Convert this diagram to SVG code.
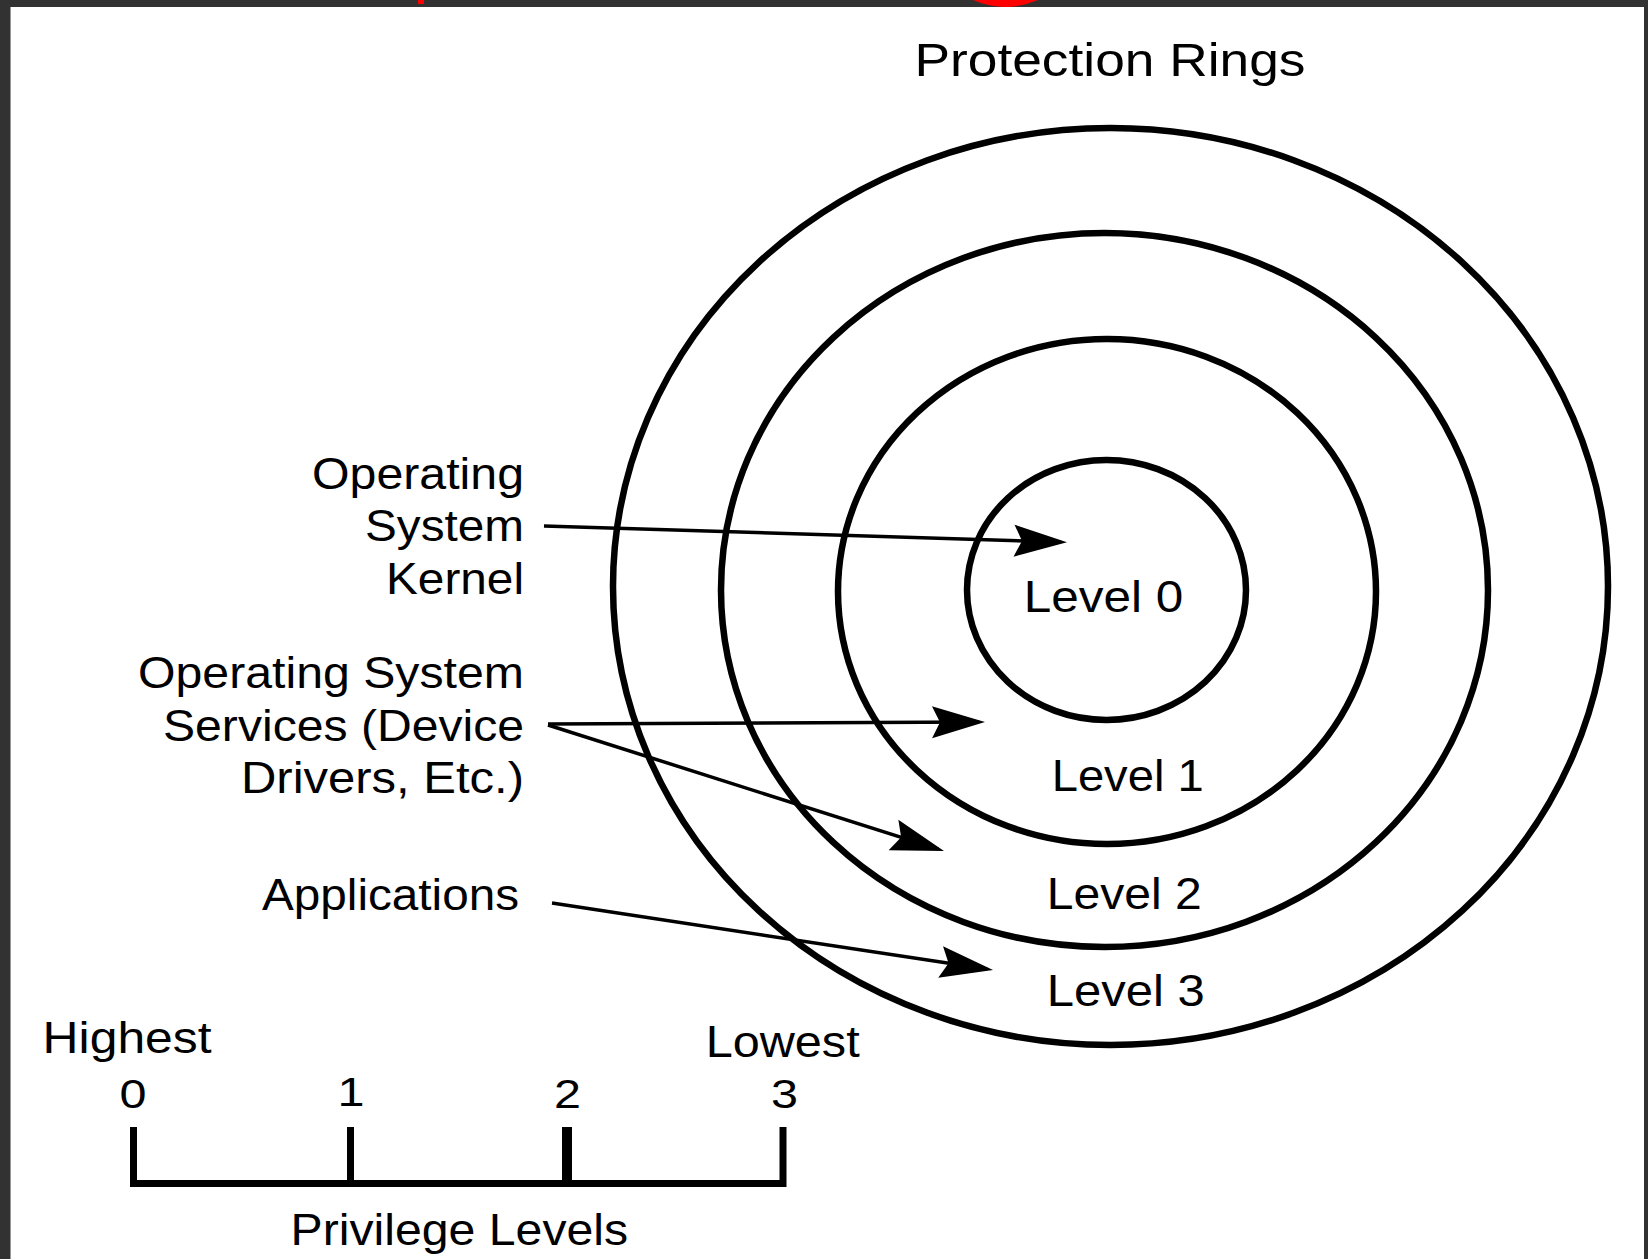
<svg xmlns="http://www.w3.org/2000/svg" width="1648" height="1259" viewBox="0 0 1648 1259">
<style>
  text { font-family: "Liberation Sans", Arial, sans-serif; fill: #000; }
  .lbl { font-size: 45px; }
  .title { font-size: 46px; }
  .digit { font-size: 41px; text-anchor: middle; }
  .ring { fill: none; stroke: #000; stroke-width: 6.5; }
  .conn line { stroke: #000; stroke-width: 3.5; marker-end: url(#arrow); }
  .frame { fill: #323232; }
</style>
<defs>
  <marker id="arrow" markerUnits="userSpaceOnUse" markerWidth="60" markerHeight="40" viewBox="-60 -20 60 40" refX="-6" refY="0" orient="auto">
    <path d="M0,0 L-53,-16 L-45,0 L-53,16 Z" fill="#000"/>
  </marker>
</defs>

<rect x="0" y="0" width="1648" height="1259" fill="#fff"/>
<g id="frame">
  <rect class="frame" x="0" y="0" width="1648" height="7"/>
  <rect class="frame" x="0" y="0" width="10.5" height="1259"/>
  <rect class="frame" x="1644" y="0" width="4" height="1259"/>
  <rect x="418" y="0" width="6" height="4" fill="#ff0000"/>
  <path d="M973,0 Q1005,14 1038,0 Z" fill="#ff0000"/>
</g>

<g id="title">
  <text class="title" x="914.5" y="76" textLength="391" lengthAdjust="spacingAndGlyphs">Protection Rings</text>
</g>

<g id="ring3">
  <ellipse class="ring" cx="1110.5" cy="586.5" rx="497.5" ry="458.5"/>
  <text class="lbl" x="1046.7" y="1006" textLength="158" lengthAdjust="spacingAndGlyphs">Level 3</text>
</g>
<g id="ring2">
  <ellipse class="ring" cx="1104.5" cy="590" rx="383.5" ry="357"/>
  <text class="lbl" x="1046.7" y="909" textLength="155" lengthAdjust="spacingAndGlyphs">Level 2</text>
</g>
<g id="ring1">
  <ellipse class="ring" cx="1107" cy="591.5" rx="269" ry="252.5"/>
  <text class="lbl" x="1051.7" y="791" textLength="152" lengthAdjust="spacingAndGlyphs">Level 1</text>
</g>
<g id="ring0">
  <ellipse class="ring" cx="1106.5" cy="590" rx="139.5" ry="130"/>
  <text class="lbl" x="1023.7" y="612" textLength="159.5" lengthAdjust="spacingAndGlyphs">Level 0</text>
</g>

<g id="label-kernel" text-anchor="end">
  <text class="lbl" x="524" y="489" textLength="212" lengthAdjust="spacingAndGlyphs">Operating</text>
  <text class="lbl" x="524" y="541" textLength="159" lengthAdjust="spacingAndGlyphs">System</text>
  <text class="lbl" x="524" y="594" textLength="138" lengthAdjust="spacingAndGlyphs">Kernel</text>
</g>
<g id="label-services" text-anchor="end">
  <text class="lbl" x="524" y="688" textLength="386" lengthAdjust="spacingAndGlyphs">Operating System</text>
  <text class="lbl" x="524" y="741" textLength="361" lengthAdjust="spacingAndGlyphs">Services (Device</text>
  <text class="lbl" x="524" y="793" textLength="283" lengthAdjust="spacingAndGlyphs">Drivers, Etc.)</text>
</g>
<g id="label-applications" text-anchor="end">
  <text class="lbl" x="519" y="910" textLength="257" lengthAdjust="spacingAndGlyphs">Applications</text>
</g>

<g id="connectors" class="conn">
  <line x1="544" y1="526" x2="1061" y2="542.1"/>
  <line x1="548" y1="724" x2="979" y2="722"/>
  <line x1="548" y1="725" x2="938.3" y2="849.2"/>
  <line x1="552" y1="903" x2="987.1" y2="969.1"/>
</g>

<g id="privilege-scale">
  <text class="lbl" x="42.6" y="1053" textLength="169" lengthAdjust="spacingAndGlyphs">Highest</text>
  <text class="lbl" x="705.7" y="1057" textLength="154" lengthAdjust="spacingAndGlyphs">Lowest</text>
  <text class="digit" x="133" y="1108" textLength="27" lengthAdjust="spacingAndGlyphs">0</text>
  <text class="digit" x="351" y="1106" textLength="27" lengthAdjust="spacingAndGlyphs">1</text>
  <text class="digit" x="567.5" y="1108" textLength="27" lengthAdjust="spacingAndGlyphs">2</text>
  <text class="digit" x="784.5" y="1108" textLength="27" lengthAdjust="spacingAndGlyphs">3</text>
  <path d="M133.5,1127 V1183.5 H783 V1127" fill="none" stroke="#000" stroke-width="7"/>
  <line x1="350.5" y1="1127" x2="350.5" y2="1183" stroke="#000" stroke-width="7"/>
  <line x1="567" y1="1127" x2="567" y2="1183" stroke="#000" stroke-width="10"/>
  <text class="lbl" x="290.6" y="1245" textLength="337.5" lengthAdjust="spacingAndGlyphs">Privilege Levels</text>
</g>
</svg>
